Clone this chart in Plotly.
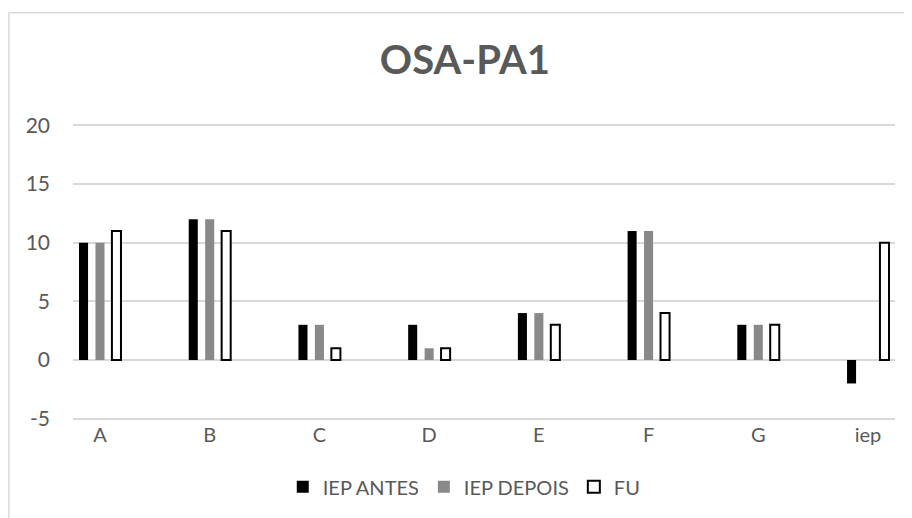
import plotly.graph_objects as go

categories = ["A", "B", "C", "D", "E", "F", "G", "iep"]
iep_antes = [10, 12, 3, 3, 4, 11, 3, -2]
iep_depois = [10, 12, 3, 1, 4, 11, 3, 0]
fu = [11, 11, 1, 1, 3, 4, 3, 10]
y_ticks = [-5, 0, 5, 10, 15, 20]
y_labels = ["-5", "0", "5", "10", "15", "20"]

txt = "#595959"
grid = "#d9d9d9"

fig = go.Figure()
fig.add_bar(x=categories, y=iep_antes, name="IEP ANTES",
            marker=dict(color="#000000", line=dict(width=0)))
fig.add_bar(x=categories, y=iep_depois, name="IEP DEPOIS",
            marker=dict(color="#898989", line=dict(width=0)))
fig.add_bar(x=categories, y=fu, name="FU",
            marker=dict(color="#ffffff", line=dict(color="#000000", width=2)))

# chart frame (only left and top edges visible in the crop)
fig.add_shape(type="line", xref="paper", yref="paper",
              x0=-0.078, x1=-0.078, y0=-0.5, y1=1.37,
              line=dict(color=grid, width=1.5))
fig.add_shape(type="line", xref="paper", yref="paper",
              x0=-0.078, x1=1.1, y0=1.37, y1=1.37,
              line=dict(color=grid, width=1.5))

fig.update_layout(
    width=912, height=518,
    margin=dict(l=65, r=25, t=115, b=105),
    paper_bgcolor="white", plot_bgcolor="white",
    font=dict(family="Lato", color=txt, size=20),
    title=dict(text="<b>OSA-PA1</b>", x=0.501, xanchor="center",
               y=0.9, yanchor="middle",
               font=dict(size=40, color=txt)),
    barmode="group", bargap=0.55, bargroupgap=0.45,
    showlegend=True,
    legend=dict(orientation="h", x=0.476, xanchor="center",
                y=-0.221, yanchor="middle", font=dict(size=20, color=txt),
                itemwidth=30),
    xaxis=dict(range=[-0.246, 7.246], showgrid=False, showline=False,
               ticks="", tickfont=dict(size=20, color=txt)),
    yaxis=dict(range=[-5.2, 20.2], tickvals=y_ticks, ticktext=y_labels,
               gridcolor=grid, gridwidth=1.5,
               zeroline=True, zerolinecolor=grid, zerolinewidth=1.5,
               showline=False, ticks="", ticklabelstandoff=22,
               tickfont=dict(size=21, color=txt)),
)

fig.write_html("out.html")
